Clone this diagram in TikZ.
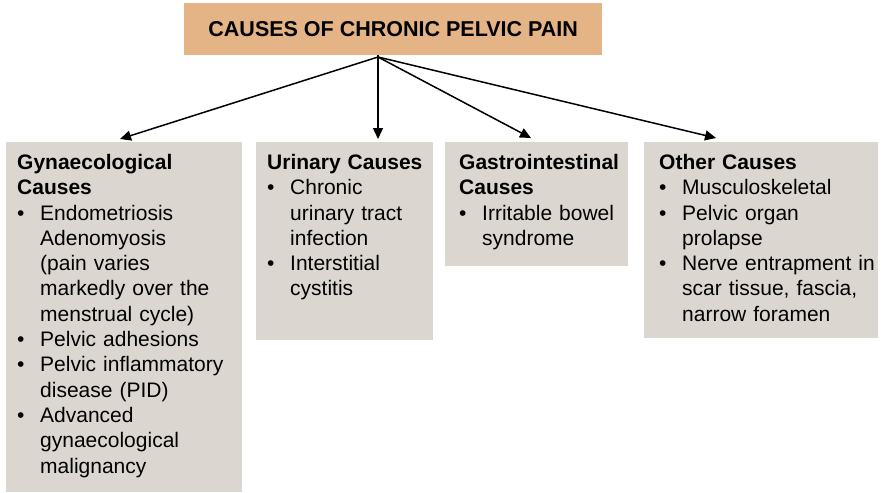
\documentclass[tikz,border=0pt]{standalone}
\usepackage{fontspec}
\setmainfont{Liberation Sans}
\usetikzlibrary{arrows.meta}
\definecolor{titlefill}{RGB}{228,179,134}
\definecolor{boxfill}{RGB}{219,215,208}
\newcommand\bitem[1]{\par\hangindent=23pt\hangafter=1\noindent\makebox[23pt][l]{\textbullet}#1}
\newcommand\bhead[1]{\noindent\textbf{#1}}
\begin{document}
\begin{tikzpicture}[x=1pt,y=-1pt,
  panel/.style={fill=boxfill, draw=none, anchor=north west, inner sep=0pt},
  panetext/.style={anchor=north west, inner sep=0pt, font=\fontsize{21pt}{25.3pt}\selectfont},
  conn/.style={line width=1.5pt, -{Triangle[length=11pt,width=10pt]}}
]
\useasboundingbox (0,0) rectangle (882,492);
% title
\node[fill=titlefill, anchor=north west, minimum width=418pt, minimum height=52pt, inner sep=0pt,
      font=\fontsize{21.5pt}{25pt}\selectfont\bfseries] (title) at (184,3) {CAUSES OF CHRONIC PELVIC PAIN};
% panels
\node[panel, minimum width=236pt, minimum height=350pt] (b1) at (6,142) {};
\node[panel, minimum width=177pt, minimum height=198pt] (b2) at (256,142) {};
\node[panel, minimum width=183pt, minimum height=124pt] (b3) at (445,142) {};
\node[panel, minimum width=234pt, minimum height=196pt] (b4) at (644,142) {};
% texts
\node[panetext, text width=225pt] (t1) at (17,154) {\raggedright
\bhead{Gynaecological}\newline
\textbf{Causes}
\bitem{Endometriosis\newline Adenomyosis\newline (pain varies\newline markedly over the\newline menstrual cycle)}
\bitem{Pelvic adhesions}
\bitem{Pelvic inflammatory\newline disease (PID)}
\bitem{Advanced\newline gynaecological\newline malignancy}\par};
\node[panetext, text width=170pt] (t2) at (267,154) {\raggedright
\bhead{Urinary Causes}
\bitem{Chronic\newline urinary tract\newline infection}
\bitem{Interstitial\newline cystitis}\par};
\node[panetext, text width=178pt] (t3) at (459,154) {\raggedright
\bhead{Gastrointestinal}\newline
\textbf{Causes}
\bitem{Irritable bowel\newline syndrome}\par};
\node[panetext, text width=222pt] (t4) at (659,154) {\raggedright
\bhead{Other Causes}
\bitem{Musculoskeletal}
\bitem{Pelvic organ\newline prolapse}
\bitem{Nerve entrapment in\newline scar tissue, fascia,\newline narrow foramen}\par};
% connector ends
\coordinate (src) at (378,57);
\coordinate (e1) at (120,139);
\coordinate (e2) at (378,139);
\coordinate (e3) at (531,138);
\coordinate (e4) at (716,138);
\draw[line width=1.5pt] (title.south -| src) -- (src);
\draw[conn] (src) -- (e1);
\draw[conn] (src) -- (e2);
\draw[conn] (src) -- (e3);
\draw[conn] (src) -- (e4);
\end{tikzpicture}
\end{document}
